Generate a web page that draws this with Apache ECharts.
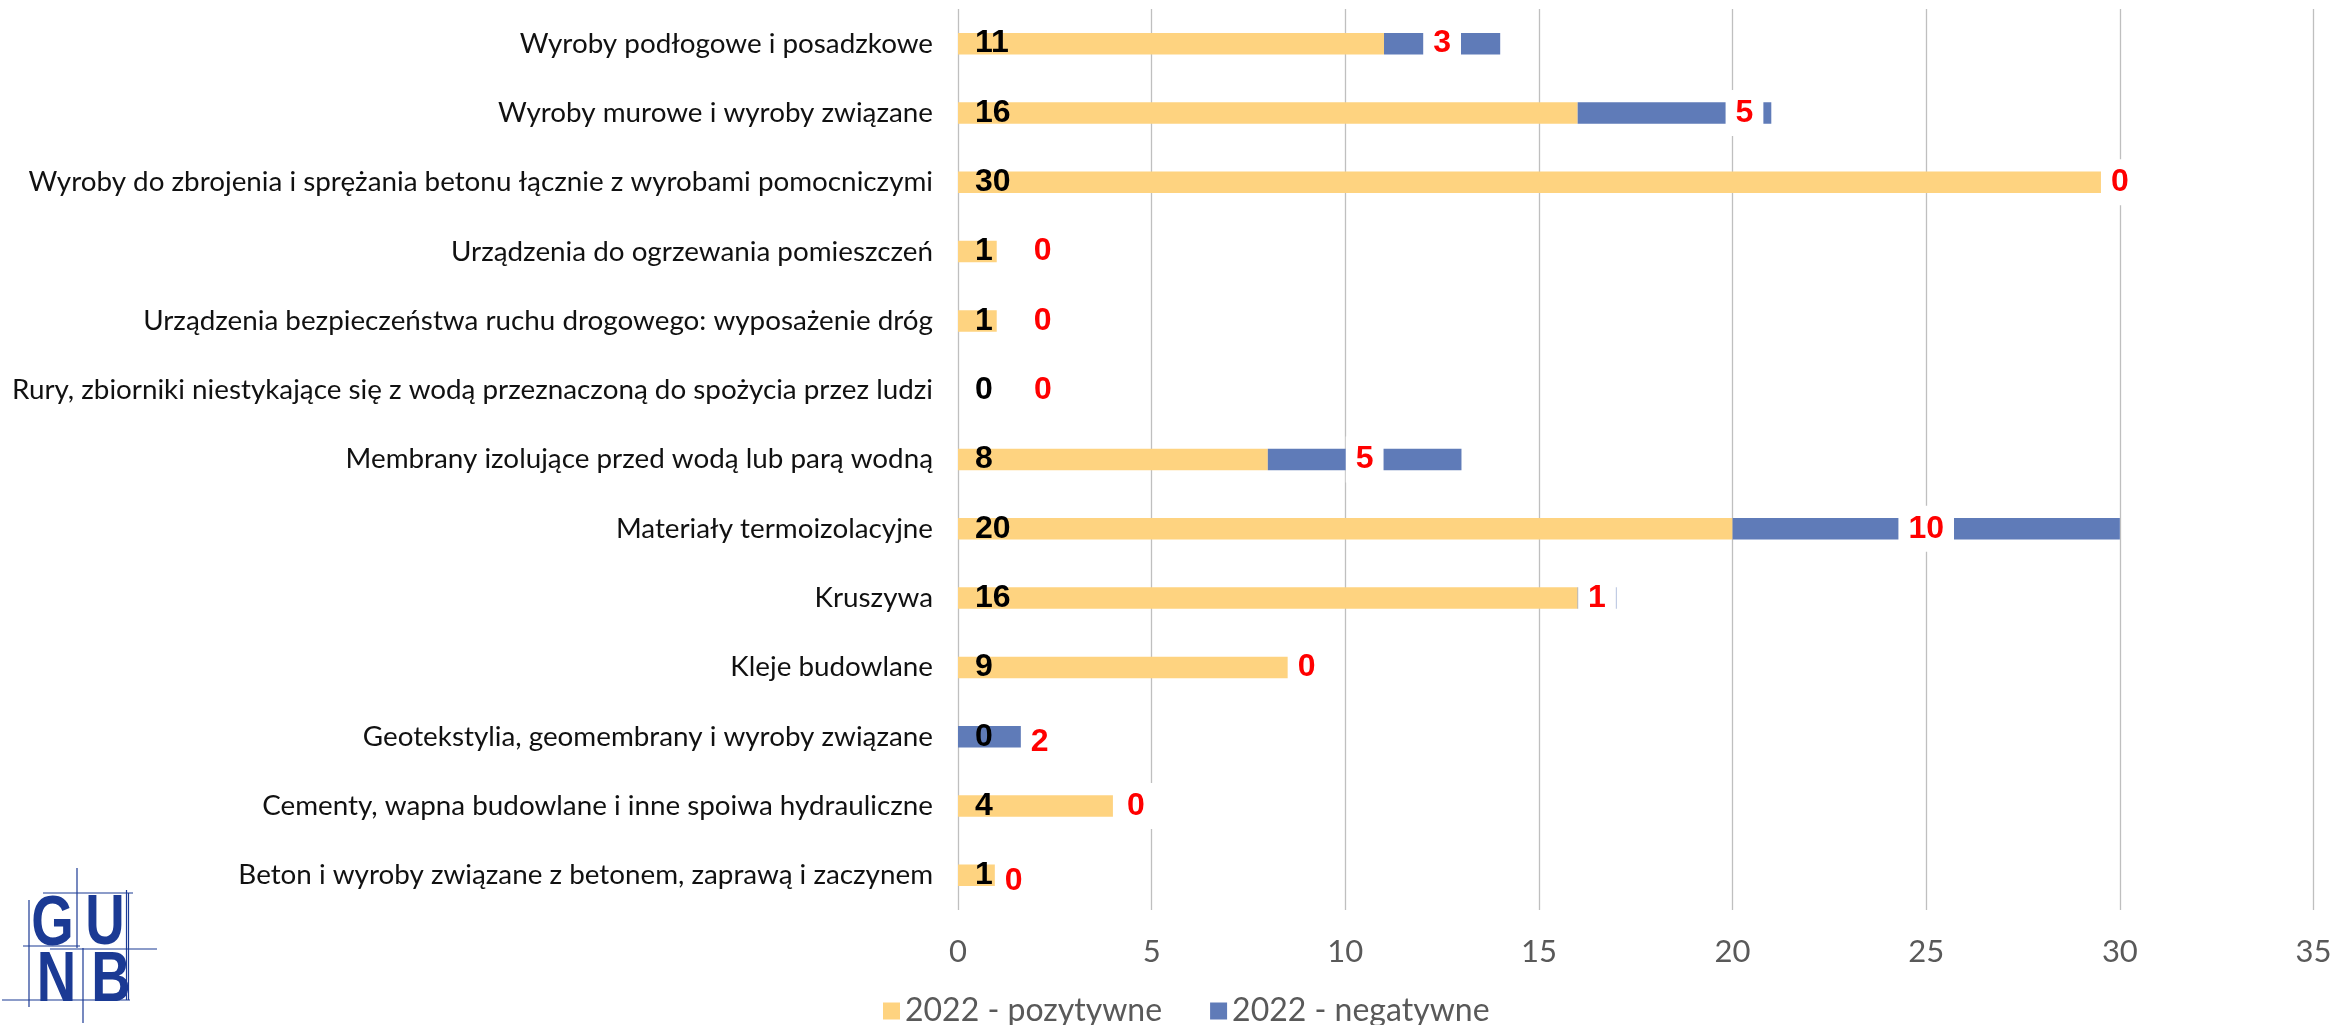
<!DOCTYPE html>
<html>
<head>
<meta charset="utf-8">
<script src="https://cdn.jsdelivr.net/npm/echarts@6/dist/echarts.min.js"></script>
<style>
  html, body { margin: 0; padding: 0; background: #fff; }
  #chart { width: 2336px; height: 1025px; }
</style>
</head>
<body>
<div id="chart"></div>
<script>
// ---- data (top-to-bottom order as in the picture) ----
const categories = [
  'Wyroby podłogowe i posadzkowe',
  'Wyroby murowe i wyroby związane',
  'Wyroby do zbrojenia i sprężania betonu łącznie z wyrobami pomocniczymi',
  'Urządzenia do ogrzewania pomieszczeń',
  'Urządzenia bezpieczeństwa ruchu drogowego: wyposażenie dróg',
  'Rury, zbiorniki niestykające się z wodą przeznaczoną do spożycia przez ludzi',
  'Membrany izolujące przed wodą lub parą wodną',
  'Materiały termoizolacyjne',
  'Kruszywa',
  'Kleje budowlane',
  'Geotekstylia, geomembrany i wyroby związane',
  'Cementy, wapna budowlane i inne spoiwa hydrauliczne',
  'Beton i wyroby związane z betonem, zaprawą i zaczynem'
];
const positives = [11, 16, 30, 1, 1, 0, 8, 20, 16, 9, 0, 4, 1];
const negatives = [3, 5, 0, 0, 0, 0, 5, 10, 1, 0, 2, 0, 0];
const seriesNames = ['2022 - pozytywne', '2022 - negatywne'];
const axisMin = 0, axisMax = 35, axisStep = 5;

// ---- styling ----
const YELLOW = '#FED380';
const BLUE = '#5F7BB8';
const LABEL_FONT = '"Liberation Sans", Arial, sans-serif';
const TEXT_FONT = 'Lato, "Open Sans", sans-serif';
// manual label nudges (px) that the original chart author applied to some red labels
const redNudge = {
  'Wyroby murowe i wyroby związane': [70, 0],
  'Urządzenia do ogrzewania pomieszczeń': [46, 0],
  'Urządzenia bezpieczeństwa ruchu drogowego: wyposażenie dróg': [46, 0],
  'Rury, zbiorniki niestykające się z wodą przeznaczoną do spożycia przez ludzi': [85, 0],
  'Geotekstylia, geomembrany i wyroby związane': [43, 5],
  'Cementy, wapna budowlane i inne spoiwa hydrauliczne': [23, 0],
  'Beton i wyroby związane z betonem, zaprawą i zaczynem': [17, 6]
};

const negData = negatives.map((v, i) => {
  const n = redNudge[categories[i]];
  return n ? { value: v, label: { offset: n } } : v;
});

const chart = echarts.init(document.getElementById('chart'), null, { renderer: 'canvas' });

const LOGO = '#1B3A94';
const logoLines = [
  [77, 868, 77, 948], [83, 948, 83, 1023], [29, 900, 29, 1007],
  [126.5, 890, 126.5, 1000], [128.5, 893, 128.5, 1000],
  [43, 893, 133, 893], [23, 946, 80, 946], [50, 949, 157, 949], [2, 1000, 130, 1000]
];
const logoLetters = [['G', 52.5, 891], ['U', 105, 890], ['N', 56.5, 947], ['B', 111, 947]];

const graphic = [];
logoLetters.forEach(([t, x, y]) => graphic.push({
  type: 'text', x: x, y: y, scaleX: 0.78,
  style: { text: t, fill: LOGO, font: 'bold 70px "Liberation Sans", sans-serif', align: 'center', verticalAlign: 'top' }
}));
logoLines.forEach(([x1, y1, x2, y2]) => graphic.push({
  type: 'line', shape: { x1, y1, x2, y2 }, style: { stroke: LOGO, lineWidth: 1.2 }
}));

chart.setOption({
  animation: false,
  backgroundColor: '#ffffff',
  grid: { left: 958, right: 22.5, top: 9, bottom: 115, containLabel: false },
  legend: {
    data: seriesNames,
    left: 878, top: 990,
    icon: 'rect', itemWidth: 17, itemHeight: 17, itemGap: 48,
    textStyle: { fontFamily: TEXT_FONT, fontSize: 32, color: '#595959' }
  },
  xAxis: {
    type: 'value', min: axisMin, max: axisMax, interval: axisStep,
    axisLine: { show: false }, axisTick: { show: false },
    axisLabel: { margin: 26, fontFamily: TEXT_FONT, fontSize: 31, color: '#595959' },
    splitLine: { show: true, lineStyle: { color: '#BFBFBF', width: 1.3 } }
  },
  yAxis: {
    type: 'category', data: categories, inverse: true,
    axisLine: { show: false }, axisTick: { show: false },
    axisLabel: { margin: 25, fontFamily: TEXT_FONT, fontSize: 27.8, color: '#111111' }
  },
  series: [
    {
      name: seriesNames[0], type: 'bar', stack: 'total', data: positives,
      barWidth: 21.5, itemStyle: { color: YELLOW },
      label: {
        show: true, position: 'insideLeft', distance: 17,
        fontFamily: LABEL_FONT, fontWeight: 'bold', fontSize: 32, color: '#000000'
      }
    },
    {
      name: seriesNames[1], type: 'bar', stack: 'total', data: negData,
      barWidth: 21.5, itemStyle: { color: BLUE },
      label: {
        show: true, position: 'inside',
        fontFamily: LABEL_FONT, fontWeight: 'bold', fontSize: 32, color: '#FF0000',
        backgroundColor: '#ffffff', padding: [7, 10]
      }
    }
  ],
  graphic: graphic
});
</script>
</body>
</html>
